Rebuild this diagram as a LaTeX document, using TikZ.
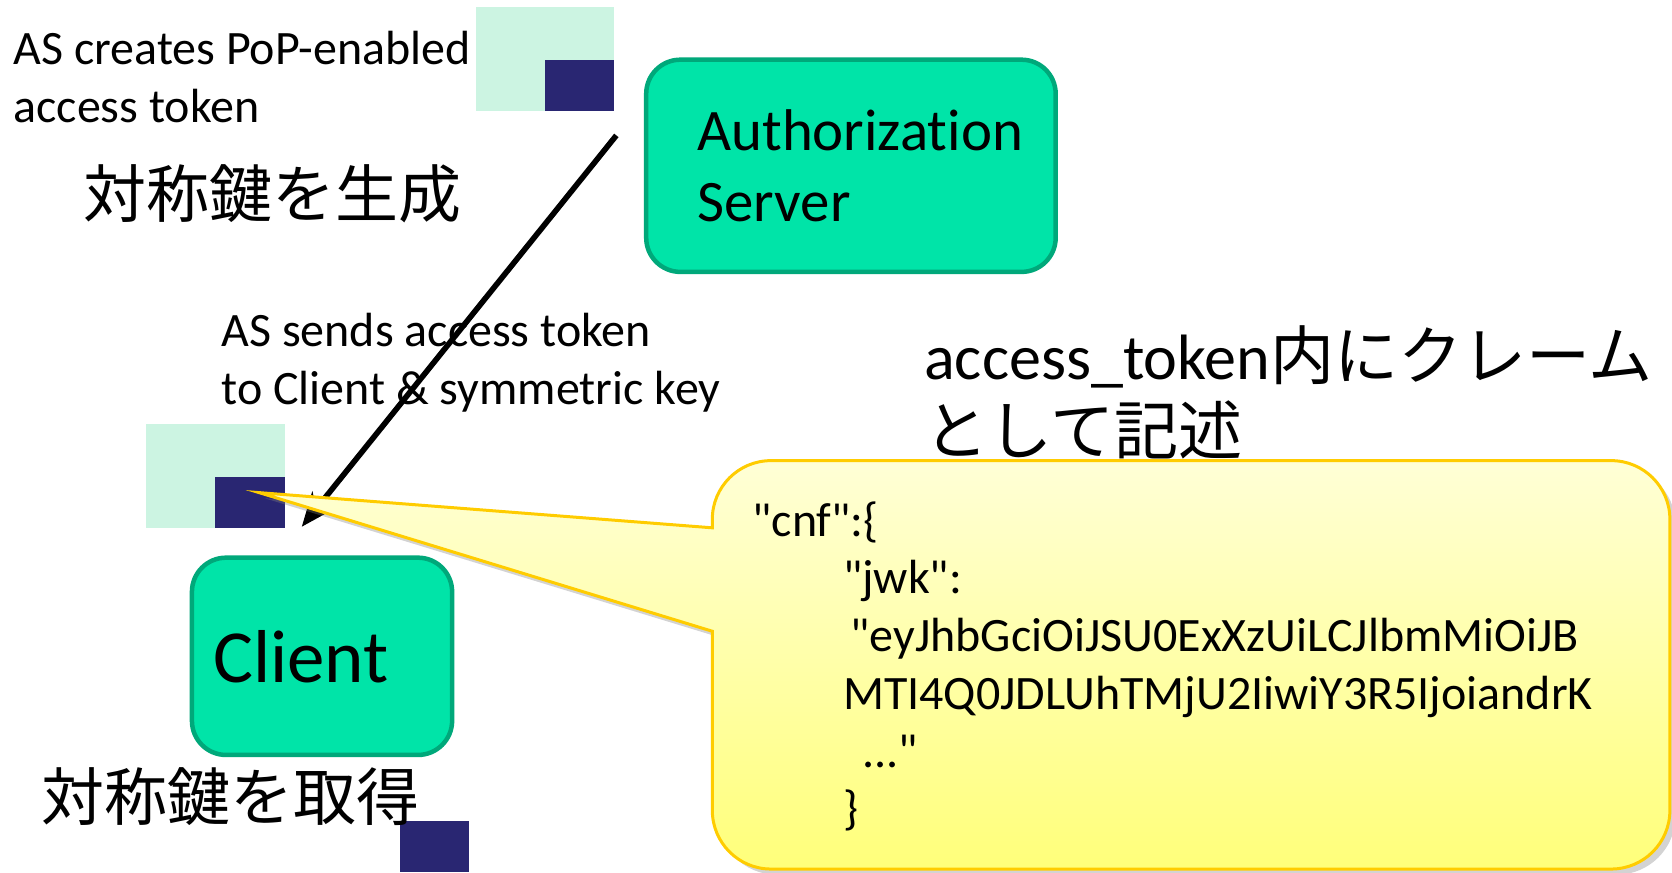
\documentclass[tikz,border=0pt]{standalone}
\usepackage{fontspec}
\setmainfont{Carlito}[Ligatures={TeX,NoCommon}]
\newfontfamily\cjk{Noto Sans CJK JP}
\usetikzlibrary{arrows.meta,shadows,positioning}
\definecolor{boxgreen}{RGB}{0,228,168}
\definecolor{boxedge}{RGB}{0,168,122}
\definecolor{keylight}{RGB}{204,244,226}
\definecolor{keydark}{RGB}{41,38,114}
\definecolor{noteedge}{RGB}{255,204,0}
\definecolor{notetop}{RGB}{255,255,214}
\definecolor{notebottom}{RGB}{255,255,122}
\tikzstyle{party} = [draw=boxedge, line width=1.2pt, fill=boxgreen, rounded corners=0.32cm]
\tikzstyle{caption} = [anchor=west, align=left, inner sep=0pt, font=\fontsize{12.8}{15.4}\selectfont]
\tikzstyle{jcaption} = [anchor=west, align=left, inner sep=0pt, font=\cjk\fontsize{16.8}{20}\selectfont]
\tikzstyle{arrow} = [line width=1.5pt, -{Stealth[length=0.32cm,width=0.26cm]}]
\tikzstyle{note} = [draw=noteedge, line width=0.8pt, top color=notetop, bottom color=notebottom,
  drop shadow={shadow xshift=1.5pt, shadow yshift=-1.5pt, opacity=0.35}]
\newcommand{\q}{\textquotedbl}

\begin{document}
\begin{tikzpicture}
\useasboundingbox (0,0) rectangle (15.68,8.18);
% key pairs
\fill[keylight] (4.46,7.14) rectangle (5.76,8.11);
\fill[keydark] (5.11,7.14) rectangle (5.76,7.62);
\fill[keylight] (1.37,3.23) rectangle (2.67,4.20);
\fill[keydark] (2.02,3.23) rectangle (2.67,3.71);
\fill[keydark] (3.75,0) rectangle (4.40,0.48);
% parties
\node (as) [party, minimum height=1.99cm, inner xsep=0.48cm, text width=2.88cm, align=left,
  font=\fontsize{15.7}{18.8}\selectfont] at (7.98,6.625) {Authorization\\Server};
\node (client) [party, minimum height=1.85cm, inner xsep=0.2cm, text width=2.04cm, align=left,
  font=\fontsize{20}{22}\selectfont] at (3.02,2.025) {Client};
% texts
\node (create) [caption] at (0.12,7.46) {AS creates PoP-enabled\\access token};
\node (gen) [jcaption] at (0.78,6.36) {対称鍵を生成};
\node (send) [caption] at (2.07,4.78) {AS sends access token\\to Client \& symmetric key};
\node (claim) [anchor=west, align=left, inner sep=0pt, font=\fontsize{17.1}{20}\selectfont]
  at (8.66,4.50) {access\_token{\cjk 内にクレーム}\\{\cjk として記述}};
\node (get) [jcaption] at (0.38,0.71) {対称鍵を取得};
% token transfer
\coordinate (send start) at (5.78,6.91);
\coordinate (send end) at (2.83,3.24);
\draw[arrow] (send start) -- (send end);
% callout
\coordinate (note tip) at (2.43,3.56);
\path[note] (6.68,3.23) -- (note tip) -- (6.68,2.26) -- (6.68,0.58)
  arc[start angle=180, end angle=270, radius=0.55] -- (15.11,0.03)
  arc[start angle=270, end angle=360, radius=0.55] -- (15.66,3.31)
  arc[start angle=0, end angle=90, radius=0.55] -- (7.23,3.86)
  arc[start angle=90, end angle=180, radius=0.55] -- cycle;
\node (jwk) [anchor=west, align=left, inner sep=0pt, font=\fontsize{12.8}{15.4}\selectfont] at (7.05,1.93)
  {\q cnf\q:\{\\
   \hspace*{0.85cm}\q jwk\q:\\
   \hspace*{0.92cm}\q eyJhbGciOiJSU0ExXzUiLCJlbmMiOiJB\\
   \hspace*{0.85cm}MTI4Q0JDLUhTMjU2IiwiY3R5IjoiandrK\\
   \hspace*{1.03cm}...\q\\
   \hspace*{0.85cm}\}};
\end{tikzpicture}
\end{document}
